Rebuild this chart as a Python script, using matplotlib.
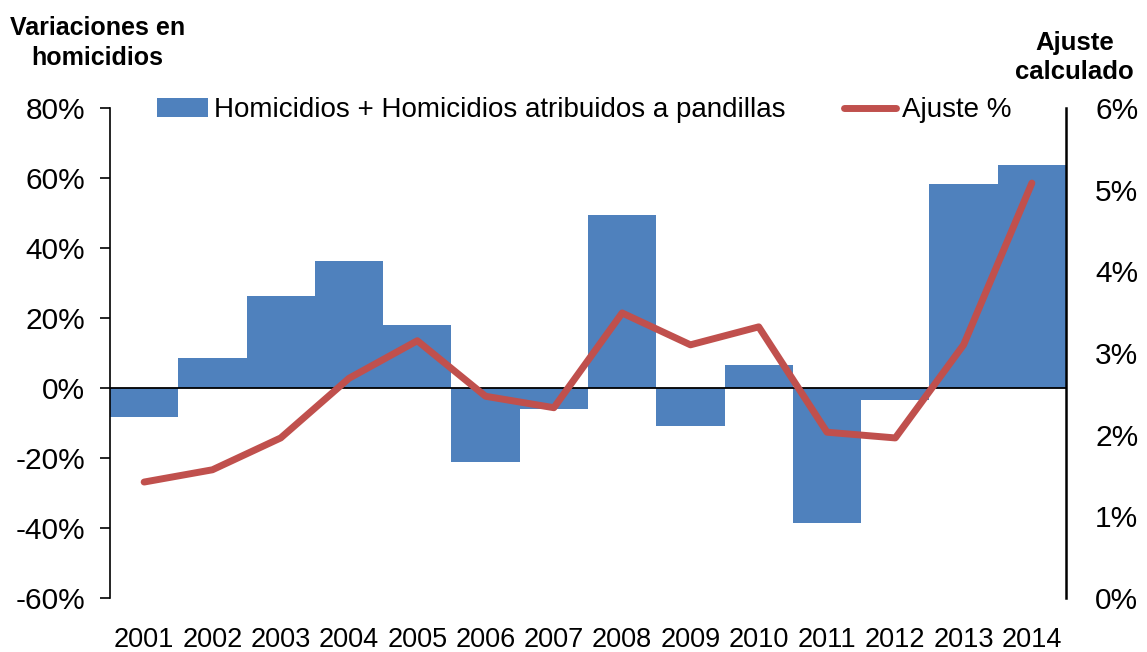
import numpy as np
import matplotlib
matplotlib.use('Agg')
import matplotlib.pyplot as plt
from matplotlib.ticker import FuncFormatter

plt.rcParams['font.family'] = ['Liberation Sans', 'DejaVu Sans']

years = ['2001', '2002', '2003', '2004', '2005', '2006', '2007',
         '2008', '2009', '2010', '2011', '2012', '2013', '2014']
# variaciones en homicidios (%)
variaciones = [-8.3, 8.6, 26.3, 36.3, 18.0, -21.1, -6.0,
               49.4, -10.9, 6.6, -38.6, -3.4, 58.3, 63.7]
# ajuste calculado (%)
ajuste = [1.42, 1.57, 1.96, 2.69, 3.15, 2.47, 2.33,
          3.49, 3.10, 3.32, 2.03, 1.96, 3.10, 5.08]

x = np.arange(len(years))

fig = plt.figure(figsize=(11.47, 6.52), dpi=100)
ax = fig.add_axes([0.0959, 0.0828, 0.8335, 0.7516])
ax2 = ax.twinx()

bars = ax.bar(x, variaciones, width=1.0, color='#4F81BD',
              label='Homicidios + Homicidios atribuidos a pandillas')
ax.axhline(0, color='black', lw=1.3)
line, = ax2.plot(x, ajuste, color='#C0504D', lw=5, solid_capstyle='round',
                 label='Ajuste %')

ax.set_xlim(-0.5, 13.5)
ax.set_ylim(-60, 80)
ax.set_yticks(np.arange(-60, 81, 20))
ax.yaxis.set_major_formatter(FuncFormatter(lambda v, p: f'{v:.0f}%'))
ax2.set_ylim(0, 6)
ax2.set_yticks(np.arange(0, 7, 1))
ax2.yaxis.set_major_formatter(FuncFormatter(lambda v, p: f'{v:.0f}%'))

ax.set_xticks(x)
ax.set_xticklabels(years)
ax.tick_params(axis='x', length=0, labelsize=19.5, pad=21)
ax.tick_params(axis='y', direction='out', length=7, width=1.2, labelsize=21.5, pad=11)
ax2.tick_params(axis='y', length=0, labelsize=21.5, pad=21)

for a in (ax, ax2):
    a.spines['top'].set_visible(False)
    a.spines['bottom'].set_visible(False)
ax.spines['right'].set_visible(False)
ax2.spines['left'].set_visible(False)
ax.spines['left'].set_linewidth(1.2)
ax2.spines['right'].set_linewidth(1.8)

ax.legend(handles=[bars, line], loc='center left', bbox_to_anchor=(0.049, 0.995),
          ncol=2, frameon=False, fontsize=20, handlelength=1.85,
          handletextpad=0.22, columnspacing=2.1, borderaxespad=0, borderpad=0)

fig.text(0.085, 0.975, 'Variaciones en\nhomicidios', ha='center', va='top',
         fontsize=18, fontweight='bold', linespacing=1.3)
fig.text(0.937, 0.953, 'Ajuste\ncalculado', ha='center', va='top',
         fontsize=18.5, fontweight='bold', linespacing=1.3)

fig.savefig('out.png', dpi=100)
